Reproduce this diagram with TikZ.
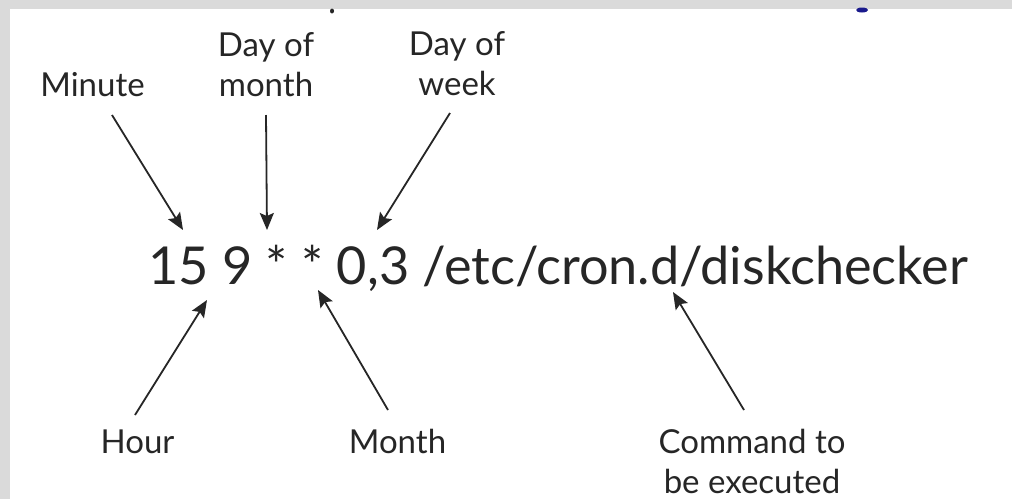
\documentclass[tikz,border=0pt]{standalone}
\usepackage{fontspec}
\setmainfont{Lato}
\usetikzlibrary{arrows.meta}
\definecolor{frame}{HTML}{DADADA}
\definecolor{ink}{HTML}{262626}
\definecolor{blob}{HTML}{1A1A8C}
\begin{document}
\begin{tikzpicture}[x=1pt,y=-1pt,
  lbl/.style={font=\fontsize{33}{40}\selectfont, text=ink, inner sep=0pt, align=center, anchor=base},
  ptr/.style={draw=ink, line width=1.8pt, -{Stealth[length=17pt,width=14pt,inset=3pt]}}]
\useasboundingbox (0,0) rectangle (1012,499);
\fill[white] (0,0) rectangle (1012,499);
\fill[frame] (0,0) rectangle (1012,9);
\fill[frame] (0,0) rectangle (10,499);
\fill[ink] (332,11) ellipse (2 and 2.5);
\fill[blob] (862,10) ellipse (6 and 2.5);

\node[lbl] (minute) at (92.5,96) {Minute};
\node[lbl] (dom) at (266,96) {Day of\\month};
\node[lbl] (dow) at (457,95) {Day of\\week};
\node[lbl] (hour) at (137.5,453) {Hour};
\node[lbl] (month) at (397.5,453) {Month};
\node[lbl] (cmdlbl) at (752,493) {Command to\\be executed};

\node[inner sep=0pt, anchor=base west, text=ink] (line) at (148,284)
  {\resizebox{820pt}{!}{15 9 * * 0,3 /etc/cron.d/diskchecker}};

\coordinate (s1) at (112,115); \coordinate (t1) at (183,230);
\coordinate (s2) at (266,115); \coordinate (t2) at (267,230);
\coordinate (s3) at (450,113); \coordinate (t3) at (377,230);
\coordinate (s4) at (135,415); \coordinate (t4) at (207,300);
\coordinate (s5) at (388,410); \coordinate (t5) at (318,290);
\coordinate (s6) at (744,410); \coordinate (t6) at (673,292);
\draw[ptr] (s1) -- (t1);
\draw[ptr] (s2) -- (t2);
\draw[ptr] (s3) -- (t3);
\draw[ptr] (s4) -- (t4);
\draw[ptr] (s5) -- (t5);
\draw[ptr] (s6) -- (t6);
\end{tikzpicture}
\end{document}
